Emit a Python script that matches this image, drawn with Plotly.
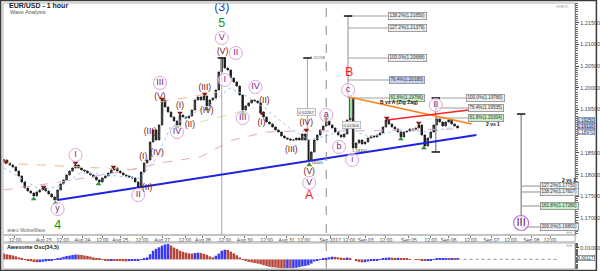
import plotly.graph_objects as go

# ---------------- data ----------------
closes = [
    1.18336, 1.18267, 1.18221, 1.18175, 1.18083, 1.17968, 1.17830, 1.17691, 1.17622, 1.17576,
    1.17507, 1.17599, 1.17645, 1.17691, 1.17622, 1.17553, 1.17484, 1.17415, 1.17645, 1.17784,
    1.17876, 1.17991, 1.18083, 1.18152, 1.18221, 1.18152, 1.18106, 1.18083, 1.18037, 1.17991,
    1.17945, 1.17876, 1.17830, 1.17922, 1.17968, 1.18037, 1.18106, 1.18152, 1.18083, 1.18037,
    1.17991, 1.17968, 1.17945, 1.17922, 1.17830, 1.17714, 1.18060, 1.18267, 1.18336, 1.18751,
    1.19028, 1.18797, 1.19143, 1.19719, 1.19558, 1.19442, 1.19327, 1.19235, 1.19143, 1.19373,
    1.19327, 1.19304, 1.19350, 1.19488, 1.19719, 1.19788, 1.19719, 1.19811, 1.19581, 1.19719,
    1.19765, 1.19949, 1.20364, 1.20687, 1.20456, 1.20410, 1.20226, 1.20134, 1.20041, 1.19834,
    1.19488, 1.19581, 1.19650, 1.19719, 1.19696, 1.19650, 1.19442, 1.19327, 1.19212, 1.19166,
    1.19097, 1.19028, 1.18982, 1.18889, 1.18843, 1.18820, 1.18797, 1.18797, 1.18843, 1.18797,
    1.18936, 1.18797, 1.18336, 1.18521, 1.18797, 1.18913, 1.19028, 1.19120, 1.19235, 1.19143,
    1.19074, 1.18982, 1.18913, 1.18866, 1.18936, 1.19258, 1.19765, 1.18613, 1.18728, 1.18797,
    1.18705, 1.18751, 1.18843, 1.18889, 1.18866, 1.18913, 1.18959, 1.19097, 1.19258, 1.19166,
    1.19097, 1.19051, 1.18982, 1.18866, 1.18982, 1.19005, 1.19051, 1.19028, 1.19074, 1.19143,
    1.18913, 1.18659, 1.18843, 1.18982, 1.19143, 1.19281, 1.19212, 1.19120, 1.19212, 1.19258,
    1.19166, 1.19120, 1.19074,
]

# Awesome oscillator, in units of 0.0001
ao_1e4 = [
    50, 44, 40, 34, 27, 18, 8, -2, -9, -16,
    -22, -25, -24, -20, -17, -12, -8, -3, 4, 14,
    22, 30, 33, 38, 42, 41, 39, 34, 30, 24,
    17, 10, 5, -2, -6, -9, -8, -10, -12, -14,
    -16, -17, -15, -13, -10, -6, -1, 6, 17, 45,
    75, 92, 105, 120, 130, 133, 120, 102, 90, 75,
    66, 58, 52, 50, 55, 58, 56, 48, 40, 26,
    18, 32, 50, 75, 84, 82, 68, 52, 36, 18,
    2, -14, -22, -26, -32, -36, -42, -50, -57, -64,
    -68, -70, -74, -76, -77, -75, -76, -74, -72, -66,
    -60, -56, -50, -36, -18, -8, -1, 8, 15, 18,
    24, 22, 18, 14, 9, 16, 10, 0, -14, -22,
    -26, -24, -18, -14, -12, -7, -1, 7, 14, 17,
    15, 12, 13, 11, 7, 5, 3, 0, -2, -4,
    -8, -14, -10, -6, -1, 4, 8, 10, 12, 11,
    12, 11, 12,
]

tick_pos = [3.7, 13.3, 19.7, 26.3, 33, 39, 46.3, 53, 60.7, 66.7, 74, 80.7, 88, 94.7,
            100.5, 109.3, 115.6, 121.2, 128, 135.7, 143, 149, 156.3, 163.3, 169.7, 176.7, 183]
tick_text = ["12:00", "Aug 23", "12:00", "Aug 24", "12:00", "Aug 25", "12:00", "Aug 27",
             "12:00", "Aug 28", "12:00", "Aug 30", "12:00", "Aug 31", "12:00", "Sep 2017",
             "12:00", "Sep 03", "12:00", "Sep 05", "12:00", "Sep 06", "12:00", "Sep 07",
             "12:00", "Sep 08", "12:00"]

# 1.19000 is hidden behind the live price boxes
price_ticks = [1.170, 1.175, 1.180, 1.185, 1.195, 1.200, 1.205, 1.210, 1.215]

# moving averages (bar, price)
fast_ma_bar = [0, 5.7, 12.3, 19, 25.7, 32.3, 40.7, 45.7, 50.7, 55.7, 62.3, 69, 75.7, 80.7,
               87.3, 95.7, 102.3, 109, 115.7, 122.3, 132.3, 142.3, 150.7]
fast_ma_price = [1.18152, 1.17922, 1.17645, 1.17737, 1.18037, 1.18014, 1.17945, 1.17922,
                 1.18336, 1.19074, 1.19373, 1.19604, 1.19995, 1.19834, 1.19535, 1.19074,
                 1.18797, 1.18913, 1.19074, 1.18866, 1.19028, 1.18982, 1.19097]
slow_ma_bar = [0, 19, 39, 52.3, 65.7, 76.7, 88, 99, 115.7, 132.3, 150.7]
slow_ma_price = [1.17645, 1.17830, 1.18060, 1.18267, 1.18406, 1.18797, 1.18982, 1.19005,
                 1.19005, 1.19028, 1.19051]
peach1_bar = [-1, 45.7]
peach1_price = [1.18267, 1.18106]
peach2_bar = [52.3, 71.7]
peach2_price = [1.19673, 1.19903]
lgreen_bar = [65.7, 84]
lgreen_price = [1.19212, 1.19535]

# trend lines
blue_tl_bar = [18, 158.3]
blue_tl_price = [1.17415, 1.18913]
red_tl_bar = [128.3, 155.7]
red_tl_price = [1.19258, 1.19488]
orange_tl_bar = [115.7, 156.7]
orange_tl_price = [1.19788, 1.19166]

# circled wave labels
circle_text = ["I", "II", "III", "IV", "V", "I", "II", "III", "IV", "V", "a", "b", "c", "i", "II", "y"]
circle_bar = [24, 45, 52.3, 58, 73, 74, 77.7, 80, 84.3, 102.3, 108, 112.3, 115.3, 116.7, 144.7, 18]
circle_price = [1.18452, 1.17530, 1.20111, 1.18982, 1.21147, 1.20180, 1.20802, 1.19304, 1.20018,
                1.17807, 1.19373, 1.18636, 1.19949, 1.18336, 1.19604, 1.17207]

# parenthesised wave labels
paren_text = ["(I)", "(II)", "(III)", "(IV)", "(V)", "(I)", "(II)", "(III)", "(IV)", "(V)",
              "(II)", "(I)", "(III)", "(IV)", "(V)"]
paren_bar = [46.7, 48, 49, 51.3, 52.3, 59, 62.3, 67.3, 68, 73.3, 87.3, 86.3, 96.3, 101.3, 102.3]
paren_price = [1.18406, 1.17691, 1.18982, 1.18498, 1.19788, 1.19581, 1.19143, 1.19995, 1.19466,
               1.20825, 1.19696, 1.19189, 1.18567, 1.19189, 1.18060]

# big degree labels
big_text = ["(3)", "5", "4", "A", "B"]
big_bar = [73, 73, 18, 102.3, 115.7]
big_price = [1.21850, 1.21470, 1.16816, 1.17507, 1.20341]
big_color = ["#1f3fd6", "#119911", "#119911", "#ff1a1a", "#ff1a1a"]

# swing markers
top_bar = [0.7, 13.3, 24, 36.7, 53, 59, 67.3, 86.3, 101.3, 108, 128.3, 139]
top_price = [1.18290, 1.17714, 1.18267, 1.18175, 1.19742, 1.19419, 1.19857, 1.19419, 1.19028,
             1.19281, 1.19304, 1.19189]
bot_bar = [10, 17.3, 31.7, 58, 68, 80, 102.3, 133, 140.7]
bot_price = [1.17438, 1.17346, 1.17784, 1.19097, 1.19512, 1.19419, 1.18221, 1.18820, 1.18613]

# fibonacci blocks
fib1_bar = 115.3
fib1_top = 1.21654
fib1_levels = [1.21654, 1.21378, 1.20687, 1.20180, 1.19765]
fib1_text = ["138.2%(1.21650)", "127.2%(1.21379)", "100.0%(1.20688)", "76.4%(1.20180)", "61.8%(1.19766)"]
fib1_bg = ["#eeeeee", "#eeeeee", "#eeeeee", "#c9d2f7", "#c8efc8"]
fib2_bar = 144.7
fib2_range = [1.19765, 1.18521]
fib2_levels = [1.19765, 1.19535, 1.19304]
fib2_text = ["100.0%(1.19780)", "76.4%(1.19535)", "61.8%(1.19304)"]
fib2_bg = ["#eeeeee", "#eeeeee", "#c8efc8"]
fib3_bar = 173.3
fib3_range = [1.19396, 1.16885]
fib3_levels = [1.17737, 1.17599, 1.17276, 1.16793]
fib3_text = ["127.2%(1.17750)", "138.2%(1.17607)", "161.8%(1.17280)", "200.0%(1.16801)"]
fib3_bg = ["#eeeeee", "#eeeeee", "#c8efc8", "#eeeeee"]

# measuring tool
meas_bar = 101.7
meas_range = [1.20687, 1.18290]

# right-axis price boxes
price_box_val = [1.19250, 1.19110, 1.18970]
price_box_bg = ["#c4ecf7", "#cdcdf7", "#ffffff"]
ao_last = 0.00117

# ---------------- figure ----------------
XD = [0.005, 0.9633]
YD_MAIN = [0.13284, 0.98893]
YD_OSC = [0.00738, 0.10332]
XR = [-0.3, 191.37]
FONT = "Liberation Sans"

n = len(closes)
bars = list(range(n))
opens = [closes[0]] + closes[:-1]
highs = [max(o, c) for o, c in zip(opens, closes)]
lows = [min(o, c) for o, c in zip(opens, closes)]

fig = go.Figure()

def line(xs, ys, color, width=1, dash="solid", yaxis="y", xaxis="x"):
    fig.add_trace(go.Scatter(x=xs, y=ys, mode="lines", line=dict(color=color, width=width, dash=dash),
                             xaxis=xaxis, yaxis=yaxis, hoverinfo="skip", showlegend=False))

# moving averages / channel lines
line(slow_ma_bar, slow_ma_price, "#e2a8cf", 1, "dash")
line(fast_ma_bar, fast_ma_price, "#9cc7ef", 1, "dot")
line(peach1_bar, peach1_price, "#f5b894", 1, "dash")
line(peach2_bar, peach2_price, "#f5b894", 1, "dash")
line(lgreen_bar, lgreen_price, "#cfe3a6", 1, "dash")

# vertical marker lines
line([73, 73], [closes[73], 1.16608], "#a8a8a8", 1)
line([meas_bar, meas_bar], meas_range, "#a8a8a8", 1)

# fib structures
line([fib1_bar, fib1_bar], [fib1_top, fib1_levels[-1]], "#a0a0a0", 1.2)
for lv in fib1_levels:
    line([fib1_bar, 129.7], [lv, lv], "#a0a0a0", 1.2)
line([fib1_bar + 1, fib1_bar + 1], [1.19765, 1.19304], "#9be39b", 2.5)
line([fib2_bar, fib2_bar], fib2_range, "#808080", 1.2)
for lv in fib2_levels:
    line([fib2_bar, 156.7], [lv, lv], "#a0a0a0", 1.2)
line([fib3_bar, fib3_bar], fib3_range, "#808080", 1.2)
for lv in fib3_levels:
    line([fib3_bar, 181.7], [lv, lv], "#a0a0a0", 1.2)

# T caps
fig.add_trace(go.Scatter(
    x=[fib1_bar, fib2_bar, fib2_bar, fib3_bar, meas_bar, 73],
    y=[fib1_top, fib2_range[0], fib2_range[1], fib3_range[0], meas_range[0], closes[73]],
    mode="markers", marker=dict(symbol="line-ew", size=6, line=dict(color="#111", width=1.5)),
    hoverinfo="skip", showlegend=False))

# price candles
fig.add_trace(go.Candlestick(
    x=bars, open=opens, high=highs, low=lows, close=closes,
    increasing=dict(line=dict(color="#1a1a1a", width=0.9), fillcolor="#6a6a6a"),
    decreasing=dict(line=dict(color="#1a1a1a", width=0.9), fillcolor="#1a1a1a"),
    whiskerwidth=0, hoverinfo="skip", showlegend=False, xaxis="x", yaxis="y"))

# trend lines
line(blue_tl_bar, blue_tl_price, "#1f22e0", 2)
line(orange_tl_bar, orange_tl_price, "#ff7f1a", 1.6)
line(red_tl_bar, red_tl_price, "#ff2222", 1.6)

# swing markers
fig.add_trace(go.Scatter(x=top_bar, y=top_price, mode="markers",
                         marker=dict(symbol="triangle-down", size=5, color="#7e1e16"),
                         hoverinfo="skip", showlegend=False))
fig.add_trace(go.Scatter(x=bot_bar, y=bot_price, mode="markers",
                         marker=dict(symbol="triangle-up", size=5, color="#2f8f3f"),
                         hoverinfo="skip", showlegend=False))

# circled labels
fig.add_trace(go.Scatter(x=circle_bar, y=circle_price, mode="markers+text", text=circle_text,
                         textposition="middle center",
                         textfont=dict(family=FONT, size=9, color="#7d1c80"),
                         marker=dict(symbol="circle", size=13, color="rgba(255,255,255,0.55)",
                                     line=dict(color="#dca3dc", width=1)),
                         hoverinfo="skip", showlegend=False))
fig.add_trace(go.Scatter(x=[fib3_bar], y=[fib3_range[1]], mode="markers+text", text=["III"],
                         textposition="middle center",
                         textfont=dict(family=FONT, size=11, color="#6a0d80"),
                         marker=dict(symbol="circle", size=15, color="rgba(255,255,255,0.6)",
                                     line=dict(color="#c070d0", width=1.2)),
                         hoverinfo="skip", showlegend=False))

# parenthesised labels
fig.add_trace(go.Scatter(x=paren_bar, y=paren_price, mode="text", text=paren_text,
                         textposition="middle center",
                         textfont=dict(family=FONT, size=8.5, color="#741010"),
                         hoverinfo="skip", showlegend=False))

# big degree labels
fig.add_trace(go.Scatter(x=big_bar, y=big_price, mode="text", text=big_text,
                         textposition="middle center",
                         textfont=dict(family=FONT, size=12.5, color=big_color),
                         hoverinfo="skip", showlegend=False))

# awesome oscillator
ao = [v * 1e-4 for v in ao_1e4]
ao_col = ["#b5473a"] + ["#3a3af5" if ao[k] >= ao[k - 1] else "#b5473a" for k in range(1, len(ao))]
fig.add_trace(go.Bar(x=list(range(len(ao))), y=ao, marker=dict(color=ao_col, line=dict(width=0)),
                     xaxis="x2", yaxis="y2", hoverinfo="skip", showlegend=False))
line([len(ao) - 1, 186], [0, 0], "#9a9a9a", 1, "dot", yaxis="y2", xaxis="x2")

ann = []
def txt(x, y, s, size=5, color="#222", bold=False, xref="x", yref="y", xanchor="center", **kw):
    ann.append(dict(x=x, y=y, xref=xref, yref=yref, text=("<b>%s</b>" % s) if bold else s,
                    showarrow=False, xanchor=xanchor, yanchor="middle",
                    font=dict(family=FONT, size=size, color=color), **kw))

for t, lv, bg in zip(fib1_text, fib1_levels, fib1_bg):
    txt(135.2, lv, t, 4.6, "#333", bgcolor=bg, bordercolor="#8a8a8a", borderwidth=0.8, borderpad=0.6)
for t, lv, bg in zip(fib2_text, fib2_levels, fib2_bg):
    txt(161.5, lv, t, 4.6, "#333", bgcolor=bg, bordercolor="#8a8a8a", borderwidth=0.8, borderpad=0.6)
for t, lv, bg in zip(fib3_text, fib3_levels, fib3_bg):
    txt(186.3, lv, t, 4.6, "#333", bgcolor=bg, bordercolor="#8a8a8a", borderwidth=0.8, borderpad=0.6)

txt(132.3, 1.19673, "B vs A (Zig Zag)", 5, "#111", True)
txt(164.0, 1.19166, "2 vs 1", 5, "#111", True)
txt(189.3, 1.17876, "2 vs 1", 5, "#111", True)
txt(105.2, 1.20687, "1.20708", 4.2, "#666")
txt(101.3, 1.19442, "0.02267", 4.2, "#444", bgcolor="#f4f4f4", bordercolor="#999", borderwidth=0.6)
txt(104.6, 1.18267, "1.18441", 4.2, "#444")
txt(116.3, 1.19143, "0.01304", 4.2, "#444", bgcolor="#f4f4f4", bordercolor="#999", borderwidth=0.6)
txt(119.2, 1.18544, "1.18402", 4.2, "#444")

# header texts
txt(0.011, 0.978, "EUR/USD - 1 hour", 7, "#222", True, "paper", "paper", "left")
txt(0.013, 0.955, "Wave Analysis", 5.5, "#555", False, "paper", "paper", "left")
txt(0.008, 0.148, "⊖⊕⊙ MotiveWave", 4.6, "#666", False, "paper", "paper", "left")
txt(0.009, 0.09, "Awesome Osc(34,5)", 5.5, "#222", True, "paper", "paper", "left")
txt(0.955, 0.978, "⊖⊕⊙", 5, "#aaa", False, "paper", "paper", "right")
txt(0.961, 0.141, "⊕⊖", 4.2, "#aaa", False, "paper", "paper", "right")
txt(0.961, 0.094, "⊕⊖", 4.2, "#aaa", False, "paper", "paper", "right")

for v, bg in zip(price_box_val, price_box_bg):
    txt(0.966, v, "%.5f" % v, 4.5, "#223", False, "paper", "y", "left",
        bgcolor=bg, bordercolor="#5a6aa0", borderwidth=0.6, borderpad=0)
txt(0.966, ao_last, "%.5f" % ao_last, 4.5, "#223", False, "paper", "y2", "left",
    bgcolor="#ffffff", bordercolor="#555", borderwidth=0.6, borderpad=0)

shapes = [
    dict(type="line", xref="x", yref="paper", x0=108, x1=108, y0=YD_OSC[0], y1=YD_MAIN[1],
         line=dict(color="#8a8a8a", width=1, dash="dash")),
    dict(type="rect", xref="paper", yref="paper", x0=XD[0], x1=XD[1], y0=YD_MAIN[0], y1=YD_MAIN[1],
         line=dict(color="#b0b0b0", width=1)),
    dict(type="rect", xref="paper", yref="paper", x0=XD[0], x1=XD[1], y0=0.1075, y1=YD_MAIN[0],
         line=dict(color="#b0b0b0", width=1)),
    dict(type="rect", xref="paper", yref="paper", x0=XD[0], x1=XD[1], y0=YD_OSC[0], y1=YD_OSC[1],
         line=dict(color="#b0b0b0", width=1)),
    dict(type="rect", xref="paper", yref="paper", x0=0.001, x1=0.999, y0=0.002, y1=0.998,
         line=dict(color="#3a3a3a", width=1.5)),
]

fig.update_layout(
    width=600, height=271, margin=dict(l=0, r=0, t=0, b=0),
    paper_bgcolor="white", plot_bgcolor="white", showlegend=False,
    bargap=0.15, annotations=ann, shapes=shapes,
    font=dict(family=FONT),
    xaxis=dict(domain=XD, range=XR, anchor="y", tickvals=tick_pos, ticktext=tick_text,
               tickangle=0, tickfont=dict(size=5, color="#444", family=FONT), ticks="outside",
               ticklen=2, tickcolor="#777", showgrid=False, zeroline=False, showline=False,
               rangeslider=dict(visible=False), ticklabelstandoff=-2),
    yaxis=dict(domain=YD_MAIN, range=[1.16608, 1.21954], side="right", anchor="x",
               tickvals=price_ticks, ticktext=["%.5f" % v for v in price_ticks],
               tickfont=dict(size=5.5, color="#444", family=FONT), ticks="outside", ticklen=3,
               tickcolor="#444", showgrid=False, zeroline=False, showline=True, linecolor="#333",
               linewidth=1, minor=dict(dtick=0.0005, ticks="outside", ticklen=2, tickcolor="#666")),
    xaxis2=dict(domain=XD, range=XR, anchor="y2", matches="x", showticklabels=False,
                showgrid=False, zeroline=False, showline=False),
    yaxis2=dict(domain=YD_OSC, range=[-0.0083, 0.0142], side="right", anchor="x2",
                tickvals=[0.01], ticktext=["0.01000"],
                tickfont=dict(size=5.5, color="#444", family=FONT), ticks="outside", ticklen=3,
                tickcolor="#444", showgrid=False, zeroline=False, showline=True, linecolor="#333",
                linewidth=1, minor=dict(dtick=0.001, ticks="outside", ticklen=2, tickcolor="#666")),
)

fig.write_html("out.html")
